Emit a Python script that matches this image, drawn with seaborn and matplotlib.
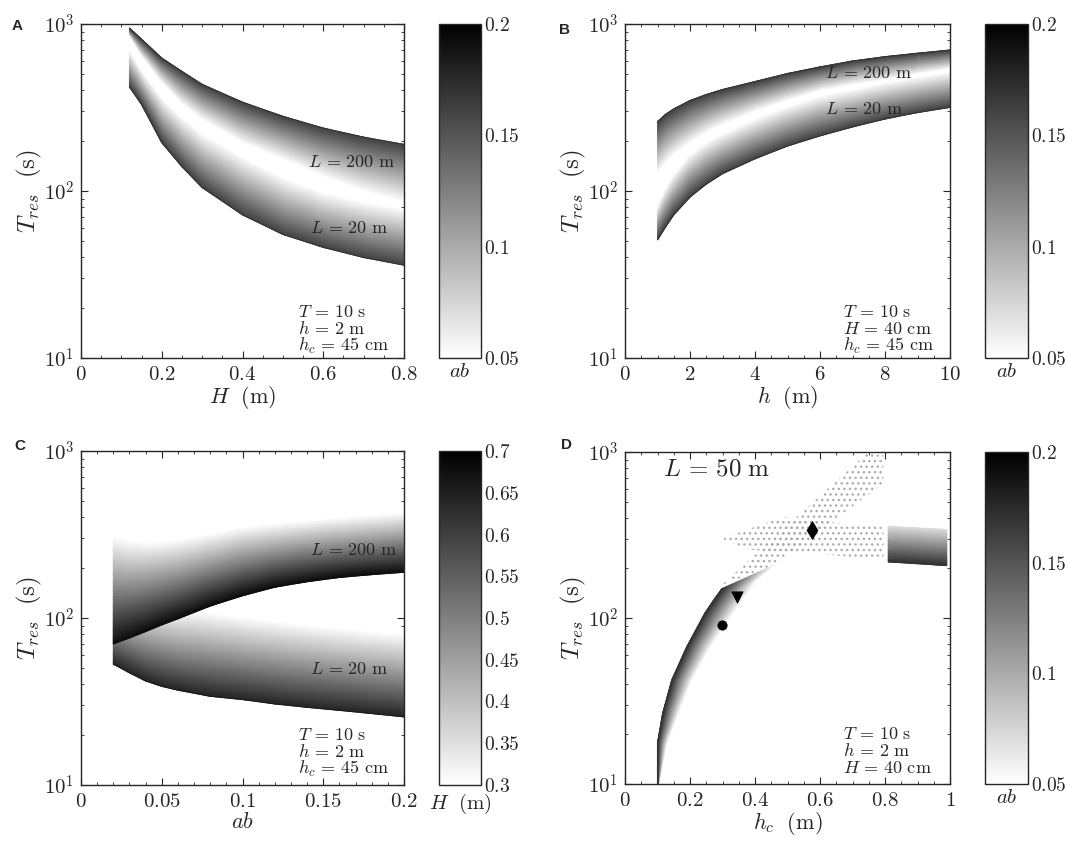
import numpy as np
import matplotlib
matplotlib.use('Agg')
import matplotlib.pyplot as plt
from matplotlib.ticker import FuncFormatter, MultipleLocator, LogLocator, NullFormatter
from matplotlib.colors import Normalize
from matplotlib.cm import ScalarMappable
import seaborn as sns

sns.set_style('ticks')
plt.rcParams['font.family'] = ['DejaVu Serif']
plt.rcParams['mathtext.fontset'] = 'cm'
plt.rcParams['hatch.linewidth'] = 1.0

# ---- panel A : T_res vs H (colour = ab) ----
A_H = [0.12, 0.15, 0.2, 0.25, 0.3, 0.4, 0.5, 0.6, 0.7, 0.8]
A_L200_dark = [945, 810, 625, 520, 435, 340, 280, 238, 210, 190]
A_L200_light = [860, 650, 450, 335, 270, 195, 155, 122, 100, 86]
A_L20_light = [690, 520, 360, 275, 220, 160, 120, 98, 86, 78]
A_L20_dark = [420, 330, 195, 140, 105, 72, 55, 46, 40, 36]

# ---- panel B : T_res vs h (colour = ab) ----
B_h = [1, 1.25, 1.5, 2, 2.5, 3, 4, 5, 6, 7, 8, 9, 10]
B_L200_dark = [260, 288, 310, 348, 378, 405, 452, 505, 553, 600, 637, 668, 698]
B_L200_light = [128, 148, 165, 195, 224, 250, 300, 350, 400, 435, 465, 505, 542]
B_L20_light = [80, 103, 125, 165, 195, 220, 270, 320, 370, 405, 445, 480, 518]
B_L20_dark = [51, 61, 72, 92, 110, 127, 156, 186, 214, 242, 270, 295, 317]

# ---- panel C : T_res vs ab (colour = H) ----
C_ab = [0.02, 0.03, 0.04, 0.05, 0.06, 0.08, 0.1, 0.12, 0.14, 0.16, 0.18, 0.2]
C_L200_light = [310, 290, 284, 287, 293, 318, 350, 367, 383, 398, 412, 427]
C_L200_dark = [70, 76, 83, 91, 99, 118, 136, 153, 165, 175, 182, 188]
C_L20_light = [130, 125, 120, 116, 112, 108, 101, 96, 91, 87, 83, 80]
C_L20_dark = [53, 47, 42, 39, 37, 34, 32.5, 30.6, 29.2, 28, 26.8, 25.6]

# ---- panel D : T_res vs h_c (colour = ab), L = 50 m ----
D_dark_hc = [0.100, 0.100, 0.116, 0.144, 0.190, 0.246, 0.275, 0.298]
D_dark_T = [10, 17.6, 26.7, 42.3, 67, 107, 130, 150]
D_light_hc = [0.103, 0.128, 0.164, 0.205, 0.262, 0.333, 0.405, 0.460]
D_light_T = [10, 17.6, 26.7, 42.3, 67, 107, 169, 208]
D_block_hc = [0.81, 0.99]
D_block_dark_T = [218, 207]
D_block_light_T = [357, 341]
# dotted regions
D_up_hc = [0.2975, 0.744, 0.795, 0.795, 0.456]
D_up_T = [158, 980, 955, 645, 208]
D_flat_hc = [0.2975, 0.487, 0.62, 0.795, 0.795, 0.538, 0.385]
D_flat_T = [301, 406, 379, 354, 223, 250, 257]
mark_hc = [0.2975, 0.3456, 0.576]
mark_T = [90.6, 134, 341]
mark_style = ['o', 'v', 'd']
mark_size = [45, 65, 80]

ab_ticks = [0.05, 0.1, 0.15, 0.2]
H_ticks = [0.3, 0.35, 0.4, 0.45, 0.5, 0.55, 0.6, 0.65, 0.7]

W, Hh = 1067, 846
fig = plt.figure(figsize=(W / 100, Hh / 100), dpi=100)


def rect(l, t, r, b):
    return [l / W, 1 - b / Hh, (r - l) / W, (b - t) / Hh]


cmap = 'gray_r'
lin_fmt = FuncFormatter(lambda v, p: '$%g$' % round(v, 6))
log_fmt = FuncFormatter(lambda v, p: '$10^{%d}$' % int(round(np.log10(v))))
TXT = 13


def band(ax, xl, yl, xd, yd, cl, cd, vmin, vmax, edge='0.2'):
    # shade the area between the light and dark edge curves
    xl, yl, xd, yd = (np.asarray(a, dtype=float) for a in (xl, yl, xd, yd))
    f = np.linspace(0, 1, 40)[:, None]
    X = xl + f * (xd - xl)
    Y = np.exp(np.log(yl) + f * (np.log(yd) - np.log(yl)))
    C = np.broadcast_to(cl + f * (cd - cl), X.shape)
    ax.pcolormesh(X, Y, C, shading='gouraud', cmap=cmap, vmin=vmin, vmax=vmax,
                  rasterized=True)
    sns.lineplot(x=xd, y=yd, ax=ax, color=edge, lw=0.8, estimator=None, sort=False)


def style_axes(ax, xmax, major, minor, xlabel):
    ax.set_yscale('log')
    ax.set_xlim(0, xmax)
    ax.set_ylim(10, 1000)
    ax.xaxis.set_major_locator(MultipleLocator(major))
    ax.xaxis.set_minor_locator(MultipleLocator(minor))
    ax.xaxis.set_major_formatter(lin_fmt)
    ax.yaxis.set_major_locator(LogLocator(base=10, numticks=5))
    ax.yaxis.set_minor_locator(LogLocator(base=10, subs=range(2, 10), numticks=20))
    ax.yaxis.set_major_formatter(log_fmt)
    ax.yaxis.set_minor_formatter(NullFormatter())
    ax.tick_params(which='both', direction='in', top=True, right=True, labelsize=15, pad=5)
    ax.tick_params(which='major', length=5, width=0.8)
    ax.tick_params(which='minor', length=2.5, width=0.6)
    for s in ax.spines.values():
        s.set_linewidth(1.0)
        s.set_color('0.15')
    ax.set_xlabel(xlabel, fontsize=16, labelpad=0)
    ax.set_ylabel(r'$T_{res}\ \ (\mathrm{s})$', fontsize=18, labelpad=0)


def cbar(cax, vmin, vmax, ticks, label, pad):
    sm = ScalarMappable(norm=Normalize(vmin, vmax), cmap=cmap)
    cb = fig.colorbar(sm, cax=cax)
    cb.set_ticks(ticks)
    cb.ax.yaxis.set_major_formatter(lin_fmt)
    cb.ax.tick_params(direction='in', length=3, width=0.6, labelsize=14, pad=2)
    cb.outline.set_linewidth(1.0)
    cax.set_xlabel(label, fontsize=15, labelpad=pad)


def params(ax, lines, y0):
    for i, t in enumerate(lines):
        ax.text(0.672, y0 - i * 0.051, t, transform=ax.transAxes, fontsize=TXT,
                ha='left', va='center')


def lab(ax, x, y, s, size=TXT):
    ax.text(x, y, s, fontsize=size, va='center')


# panel A
axA = fig.add_axes(rect(81, 24, 404, 358))
band(axA, A_H, A_L20_light, A_H, A_L20_dark, 0.05, 0.16, 0.05, 0.2)
band(axA, A_H, A_L200_light, A_H, A_L200_dark, 0.05, 0.16, 0.05, 0.2)
style_axes(axA, 0.8, 0.2, 0.05, r'$H\ \ (\mathrm{m})$')
lab(axA, 0.562, 150, r'$L\,=\,200\ \mathrm{m}$')
lab(axA, 0.567, 60, r'$L\,=\,20\ \mathrm{m}$')
params(axA, [r'$T\,=\,10\ \mathrm{s}$', r'$h\,=\,2\ \mathrm{m}$',
             r'$h_c\,=\,45\ \mathrm{cm}$'], 0.137)
cbar(fig.add_axes(rect(439, 24, 481, 358)), 0.05, 0.2, ab_ticks, r'$ab$', 3)

# panel B
axB = fig.add_axes(rect(625, 24, 950, 358))
band(axB, B_h, B_L20_light, B_h, B_L20_dark, 0.05, 0.16, 0.05, 0.2)
band(axB, B_h, B_L200_light, B_h, B_L200_dark, 0.05, 0.16, 0.05, 0.2)
style_axes(axB, 10, 2, 0.5, r'$h\ \ (\mathrm{m})$')
lab(axB, 6.14, 507, r'$L\,=\,200\ \mathrm{m}$')
lab(axB, 6.14, 308, r'$L\,=\,20\ \mathrm{m}$')
params(axB, [r'$T\,=\,10\ \mathrm{s}$', r'$H\,=\,40\ \mathrm{cm}$',
             r'$h_c\,=\,45\ \mathrm{cm}$'], 0.137)
cbar(fig.add_axes(rect(985, 24, 1028, 358)), 0.05, 0.2, ab_ticks, r'$ab$', 3)

# panel C
axC = fig.add_axes(rect(81, 451, 404, 785))
band(axC, C_ab, C_L20_light, C_ab, C_L20_dark, 0.3, 0.64, 0.3, 0.7, edge='0.1')
band(axC, C_ab, C_L200_light, C_ab, C_L200_dark, 0.3, 0.68, 0.3, 0.7, edge='0.05')
style_axes(axC, 0.2, 0.05, 0.01, r'$ab$')
lab(axC, 0.1418, 257, r'$L\,=\,200\ \mathrm{m}$')
lab(axC, 0.1418, 49.7, r'$L\,=\,20\ \mathrm{m}$')
params(axC, [r'$T\,=\,10\ \mathrm{s}$', r'$h\,=\,2\ \mathrm{m}$',
             r'$h_c\,=\,45\ \mathrm{cm}$'], 0.150)
cbar(fig.add_axes(rect(439, 451, 481, 785)), 0.3, 0.7, H_ticks, r'$H\ \ (\mathrm{m})$', 5)

# panel D
axD = fig.add_axes(rect(625, 452, 950, 784))
axD.fill(D_up_hc, D_up_T, facecolor='none', edgecolor='0.68', hatch='...', linewidth=0)
axD.fill(D_flat_hc, D_flat_T, facecolor='none', edgecolor='0.68', hatch='...', linewidth=0)
band(axD, D_light_hc, D_light_T, D_dark_hc, D_dark_T, 0.05, 0.17, 0.05, 0.2)
band(axD, D_block_hc, D_block_light_T, D_block_hc, D_block_dark_T, 0.07, 0.17, 0.05, 0.2)
for hx, ty, m, s in zip(mark_hc, mark_T, mark_style, mark_size):
    sns.scatterplot(x=[hx], y=[ty], ax=axD, marker=m, s=s, color='black',
                    edgecolor='black', zorder=5)
style_axes(axD, 1.0, 0.2, 0.05, r'$h_c\ \ (\mathrm{m})$')
lab(axD, 0.116, 794, r'$L\,=\,50\ \mathrm{m}$', size=18)
params(axD, [r'$T\,=\,10\ \mathrm{s}$', r'$h\,=\,2\ \mathrm{m}$',
             r'$H\,=\,40\ \mathrm{cm}$'], 0.150)
cbar(fig.add_axes(rect(985, 452, 1028, 784)), 0.05, 0.2, ab_ticks, r'$ab$', 3)

for t, x, y in [('A', 17, 26), ('B', 565, 30), ('C', 20, 446), ('D', 566, 445)]:
    fig.text(x / W, 1 - y / Hh, t, fontsize=11, fontweight='bold',
             family='Liberation Sans', ha='center', va='center')

fig.savefig('out.png', dpi=100)
